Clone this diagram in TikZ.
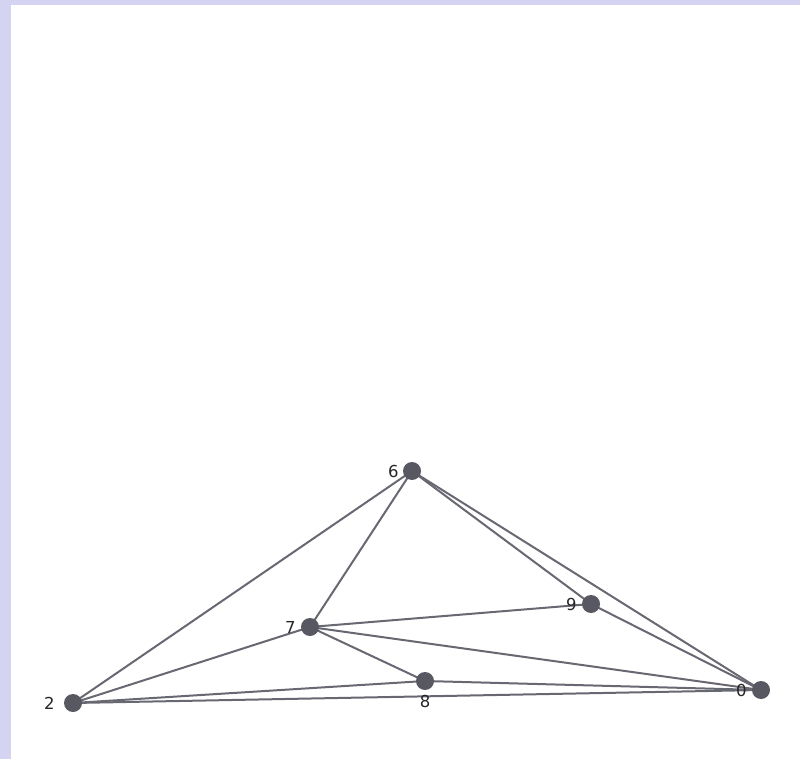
\documentclass[tikz,border=0pt]{standalone}
\usepackage{fontspec}
\setmainfont{DejaVu Sans}
\usetikzlibrary{positioning,backgrounds}
\definecolor{bgc}{RGB}{212,212,242}
\definecolor{vtxc}{RGB}{88,88,98}
\definecolor{edgec}{RGB}{104,104,114}
\tikzset{
  vtx/.style={circle, fill=vtxc, draw=none, minimum size=18pt, inner sep=0pt},
  vlbl/.style={font=\fontsize{16.5}{18}\selectfont, text=black!85, inner sep=1pt},
  link/.style={draw=edgec, line width=2pt},
}

\begin{document}
\begin{tikzpicture}[x=1pt, y=-1pt]

% ---------------------------------------------------------------- vertices
\node[vtx, label={[vlbl, label distance=3pt]left:6}] (v6) at (412,471) {};
\node[vtx, label={[vlbl, label distance=4pt]left:7}] (v7) at (310,627) {};
\node[vtx, label={[vlbl, label distance=4pt]left:9}] (v9) at (591,604) {};
\node[vtx, label={[vlbl, label distance=4pt]below:8}] (v8) at (425,681) {};
\node[vtx, label={[vlbl, label distance=4pt]left:0}] (v0) at (761,690) {};
\node[vtx, label={[vlbl, label distance=8pt]left:2}] (v2) at (73,703) {};

% ---------------------------------------------------------------- frame + edges
\begin{scope}[on background layer]
  \fill[bgc] (0,0) rectangle (800,759);
  \fill[white] (11,5) rectangle (800,759);
  \foreach \a/\b in {v6/v2, v6/v7, v6/v9, v6/v0, v7/v9, v7/v0,
                     v7/v8, v7/v2, v8/v0, v8/v2, v2/v0, v9/v0}
    \draw[link] (\a.center) -- (\b.center);
\end{scope}
\useasboundingbox (0,0) rectangle (800,759);

\end{tikzpicture}
\end{document}
